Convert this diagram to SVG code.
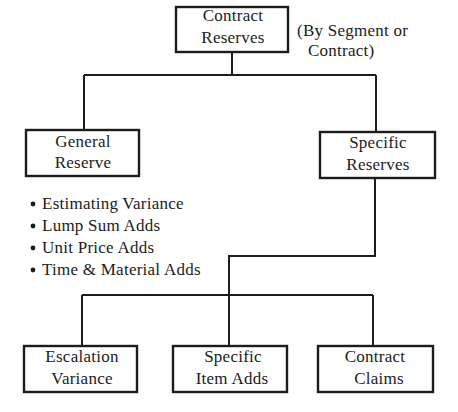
<svg xmlns="http://www.w3.org/2000/svg" width="458" height="412" viewBox="0 0 458 412">
<style>
.box{fill:#fff;stroke:#1c1c1c;stroke-width:2.4}
.ln{fill:none;stroke:#1c1c1c;stroke-width:2}
text{font-family:"Liberation Serif","Times New Roman",serif;font-size:17px;fill:#1c1c1c;letter-spacing:0.25px}
.c{text-anchor:middle}
</style>
<rect width="458" height="412" fill="#fff"/>
<g id="connectors">
<path class="ln" d="M232 52V75M84 75H376M84 75V130M376 75V132"/>
<path class="ln" d="M375 178V256H229V346M82 295H373M82 295V346M373 295V346"/>
</g>
<g id="contract-reserves">
<rect class="box" x="176" y="7" width="112" height="45"/>
<text class="c" x="233" y="21">Contract</text>
<text class="c" x="233" y="43">Reserves</text>
</g>
<g id="note">
<text x="297" y="36">(By Segment or</text>
<text x="308" y="56">Contract)</text>
</g>
<g id="general-reserve">
<rect class="box" x="26" y="130" width="113" height="46"/>
<text class="c" x="83" y="147">General</text>
<text class="c" x="83" y="168">Reserve</text>
</g>
<g id="general-items">
<circle cx="33" cy="204" r="2.4" fill="#1c1c1c"/>
<circle cx="33" cy="226" r="2.4" fill="#1c1c1c"/>
<circle cx="33" cy="248" r="2.4" fill="#1c1c1c"/>
<circle cx="33" cy="270" r="2.4" fill="#1c1c1c"/>
<text x="42" y="209">Estimating Variance</text>
<text x="42" y="231">Lump Sum Adds</text>
<text x="42" y="253">Unit Price Adds</text>
<text x="42" y="275">Time &amp; Material Adds</text>
</g>
<g id="specific-reserves">
<rect class="box" x="320" y="132" width="115" height="46"/>
<text class="c" x="378" y="148">Specific</text>
<text class="c" x="378" y="170">Reserves</text>
</g>
<g id="escalation-variance">
<rect class="box" x="24" y="346" width="113" height="46"/>
<text class="c" x="82" y="362">Escalation</text>
<text class="c" x="82" y="384">Variance</text>
</g>
<g id="specific-item-adds">
<rect class="box" x="173" y="346" width="114" height="46"/>
<text class="c" x="233" y="362">Specific</text>
<text class="c" x="232" y="384">Item Adds</text>
</g>
<g id="contract-claims">
<rect class="box" x="318" y="346" width="115" height="46"/>
<text class="c" x="375" y="362">Contract</text>
<text class="c" x="379" y="384">Claims</text>
</g>
</svg>
